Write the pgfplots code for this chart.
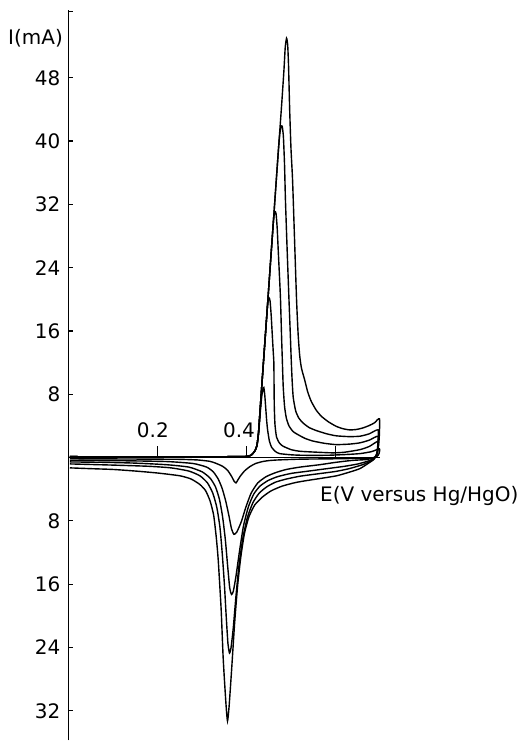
\documentclass[border=0pt]{standalone}
\usepackage{fontspec}
\setmainfont{DejaVu Sans}
\usepackage{pgfplots}
\pgfplotsset{compat=1.18}

\begin{document}
\begin{tikzpicture}
\begin{axis}[
  scale only axis,
  width=156.1pt, height=365.5pt,
  xmin=0, xmax=0.70,
  ymin=-35.73, ymax=56.57,
  axis x line=middle,
  axis y line=left,
  axis line style={-, line width=0.7pt},
  clip=false,
  xtick=\empty,
  ytick={-32,-24,-16,-8,8,16,24,32,40,48},
  yticklabels={32,24,16,8,8,16,24,32,40,48},
  extra y ticks={56.4},
  extra y tick labels={},
  tick align=inside,
  major tick length=2.5pt,
  tick style={black, line width=0.6pt},
  ticklabel style={font=\fontsize{10}{11}\selectfont},
  yticklabel style={xshift=-0.5pt},
  cycle list={{black}},
  every axis plot/.append style={line width=0.7pt, no marks, smooth, tension=0.35},
]
% curve 1
\addplot table[row sep=\\] {
E I\\ 0.003 0.12\\ 0.05 0.1\\ 0.1 0.1\\ 0.15 0.1\\ 0.2 0.1\\ 0.25 0.1\\ 0.3 0.1\\ 0.35 0.11\\ 0.38 0.12\\ 0.40 0.15\\ 0.41 0.3\\ 0.418 0.8\\ 0.423 1.5\\
0.4275 3.5\\ 0.431 6.0\\ 0.434 7.8\\ 0.4365 8.6\\ 0.4385 8.84\\ 0.4405 8.0\\ 0.443 6.1\\ 0.445 4.6\\ 0.447 3.5\\ 0.451 2.1\\ 0.456 1.3\\ 0.465 0.75\\ 0.474 0.5\\ 0.50 0.35\\ 0.52 0.3\\ 0.55 0.28\\ 0.586 0.3\\ 0.62 0.38\\ 0.654 0.5\\ 0.68 0.75\\ 0.698 1.1\\
0.697 0.5\\ 0.692 0.1\\ 0.68 -0.05\\ 0.65 -0.1\\ 0.6 -0.15\\ 0.52 -0.2\\ 0.47 -0.3\\ 0.45 -0.38\\ 0.436 -0.5\\ 0.42 -0.75\\ 0.407 -1.15\\ 0.395 -1.7\\ 0.385 -2.4\\ 0.379 -2.95\\ 0.376 -3.2\\ 0.372 -3.0\\ 0.366 -2.36\\ 0.357 -1.6\\ 0.346 -1.1\\ 0.33 -0.7\\ 0.317 -0.47\\ 0.29 -0.3\\ 0.25 -0.22\\ 0.2 -0.2\\ 0.1 -0.17\\ 0.003 -0.15\\
};
% curve 2
\addplot table[row sep=\\] {
E I\\ 0.003 0.12\\ 0.05 0.1\\ 0.1 0.1\\ 0.15 0.1\\ 0.2 0.1\\ 0.25 0.1\\ 0.3 0.1\\ 0.35 0.11\\ 0.38 0.12\\ 0.40 0.15\\ 0.41 0.3\\ 0.418 0.8\\ 0.423 1.5\\
0.4264 3\\ 0.4289 5\\ 0.4326 8\\ 0.4351 10\\ 0.4414 15\\ 0.4452 18\\ 0.4475 19.6\\ 0.4500 20.2\\ 0.4525 19.8\\ 0.455 18\\ 0.4575 15.5\\ 0.4595 13.5\\ 0.461 12\\ 0.4615 9\\ 0.462 6.5\\ 0.4635 4.2\\ 0.467 2.6\\ 0.474 1.8\\ 0.482 1.43\\ 0.50 1.0\\ 0.519 0.8\\ 0.55 0.7\\ 0.593 0.6\\ 0.62 0.68\\ 0.654 1.0\\ 0.675 1.4\\ 0.695 2.06\\
0.6945 1.0\\ 0.692 0.3\\ 0.686 0.0\\ 0.668 -0.25\\ 0.638 -0.35\\ 0.60 -0.6\\ 0.564 -0.9\\ 0.52 -1.2\\ 0.489 -1.5\\ 0.465 -1.9\\ 0.444 -2.4\\ 0.425 -3.2\\ 0.41 -4.5\\ 0.398 -6.3\\ 0.388 -8.1\\ 0.378 -9.4\\ 0.3715 -9.7\\ 0.366 -9.0\\ 0.360 -7.3\\ 0.353 -5.5\\ 0.345 -3.9\\ 0.336 -2.7\\ 0.325 -1.8\\ 0.31 -1.2\\ 0.28 -0.75\\ 0.22 -0.5\\ 0.12 -0.4\\ 0.003 -0.35\\
};
% curve 3
\addplot table[row sep=\\] {
E I\\ 0.003 0.12\\ 0.05 0.1\\ 0.1 0.1\\ 0.15 0.1\\ 0.2 0.1\\ 0.25 0.1\\ 0.3 0.1\\ 0.35 0.11\\ 0.38 0.12\\ 0.40 0.15\\ 0.41 0.3\\ 0.418 0.8\\ 0.423 1.5\\
0.4264 3\\ 0.4289 5\\ 0.4351 10\\ 0.4414 15\\ 0.4477 20\\ 0.4539 25\\ 0.4577 28\\ 0.4605 30.2\\ 0.4635 31.1\\ 0.466 30.8\\ 0.4685 29\\ 0.471 26\\ 0.474 22.5\\ 0.476 19.9\\ 0.4785 15\\ 0.48 12.4\\ 0.482 9\\ 0.485 6.5\\ 0.489 5.0\\ 0.495 4.0\\ 0.504 3.3\\ 0.512 3.0\\ 0.53 2.45\\ 0.548 2.1\\ 0.575 1.8\\ 0.601 1.64\\ 0.63 1.7\\ 0.654 1.86\\ 0.675 2.2\\ 0.695 2.7\\
0.6945 1.3\\ 0.691 0.3\\ 0.684 -0.1\\ 0.675 -0.4\\ 0.65 -0.8\\ 0.62 -1.1\\ 0.58 -1.4\\ 0.54 -1.7\\ 0.50 -2.0\\ 0.47 -2.4\\ 0.448 -2.9\\ 0.43 -3.6\\ 0.416 -4.6\\ 0.404 -6.2\\ 0.393 -8.6\\ 0.384 -11.8\\ 0.376 -15\\ 0.370 -16.9\\ 0.366 -17.3\\ 0.362 -16.5\\ 0.357 -13.5\\ 0.352 -10.3\\ 0.346 -7.5\\ 0.339 -5.3\\ 0.330 -3.7\\ 0.318 -2.6\\ 0.30 -1.8\\ 0.27 -1.2\\ 0.22 -0.9\\ 0.15 -0.7\\ 0.08 -0.6\\ 0.003 -0.55\\
};
% curve 4
\addplot table[row sep=\\] {
E I\\ 0.003 0.12\\ 0.05 0.1\\ 0.1 0.1\\ 0.15 0.1\\ 0.2 0.1\\ 0.25 0.1\\ 0.3 0.1\\ 0.35 0.11\\ 0.38 0.12\\ 0.40 0.15\\ 0.41 0.3\\ 0.418 0.8\\ 0.423 1.5\\
0.4264 3\\ 0.4289 5\\ 0.4351 10\\ 0.4414 15\\ 0.4477 20\\ 0.4539 25\\ 0.4602 30\\ 0.4664 35\\ 0.4714 39\\ 0.4745 41\\ 0.4775 41.9\\ 0.480 41.8\\ 0.4825 40.5\\ 0.485 37\\ 0.487 32.6\\ 0.491 26\\ 0.495 19.9\\ 0.498 15.5\\ 0.500 12.4\\ 0.502 9.8\\ 0.5045 7.6\\ 0.51 5.9\\ 0.517 5.0\\ 0.526 4.4\\ 0.54 3.8\\ 0.557 3.4\\ 0.58 3.0\\ 0.601 2.75\\ 0.63 2.65\\ 0.654 2.7\\ 0.675 3.0\\ 0.695 3.5\\
0.6945 1.8\\ 0.692 0.5\\ 0.687 -0.1\\ 0.68 -0.4\\ 0.66 -0.9\\ 0.63 -1.4\\ 0.60 -1.75\\ 0.56 -2.05\\ 0.52 -2.35\\ 0.49 -2.7\\ 0.465 -3.1\\ 0.445 -3.7\\ 0.428 -4.5\\ 0.414 -5.7\\ 0.402 -7.5\\ 0.392 -10\\ 0.383 -13.5\\ 0.376 -17.5\\ 0.370 -21.5\\ 0.365 -24\\ 0.3615 -24.7\\ 0.358 -23.5\\ 0.354 -20\\ 0.350 -16\\ 0.345 -12\\ 0.340 -8.8\\ 0.333 -6.3\\ 0.324 -4.5\\ 0.312 -3.2\\ 0.295 -2.3\\ 0.27 -1.7\\ 0.23 -1.3\\ 0.18 -1.1\\ 0.1 -0.95\\ 0.003 -0.8\\
};
% curve 5
\addplot table[row sep=\\] {
E I\\ 0.003 0.12\\ 0.05 0.1\\ 0.1 0.1\\ 0.15 0.1\\ 0.2 0.1\\ 0.25 0.1\\ 0.3 0.1\\ 0.35 0.11\\ 0.38 0.12\\ 0.40 0.15\\ 0.41 0.3\\ 0.418 0.8\\ 0.423 1.5\\
0.4264 3\\ 0.4289 5\\ 0.4351 10\\ 0.4414 15\\ 0.4477 20\\ 0.4539 25\\ 0.4602 30\\ 0.4664 35\\ 0.4727 40\\ 0.479 45\\ 0.4837 49\\ 0.4865 51.8\\ 0.4895 53\\ 0.492 52.2\\ 0.494 49.5\\ 0.4965 44\\ 0.4995 39\\ 0.503 35.1\\ 0.5075 27.5\\ 0.512 19.9\\ 0.5155 15.6\\ 0.519 12.9\\ 0.523 11.3\\ 0.530 9.85\\ 0.537 8.3\\ 0.545 7.1\\ 0.556 6.0\\ 0.568 5.2\\ 0.584 4.5\\ 0.601 3.95\\ 0.616 3.65\\ 0.631 3.5\\ 0.646 3.55\\ 0.661 3.75\\ 0.675 4.05\\ 0.687 4.4\\ 0.698 4.9\\
0.6975 2.5\\ 0.694 0.75\\ 0.686 -0.2\\ 0.675 -0.65\\ 0.654 -1.4\\ 0.63 -1.85\\ 0.602 -2.3\\ 0.57 -2.6\\ 0.541 -2.85\\ 0.51 -3.15\\ 0.48 -3.6\\ 0.455 -4.2\\ 0.435 -5.0\\ 0.418 -6.0\\ 0.405 -7.5\\ 0.395 -9.6\\ 0.387 -12.5\\ 0.380 -16\\ 0.373 -20.9\\ 0.366 -27\\ 0.3605 -31.5\\ 0.357 -33.3\\ 0.354 -31.5\\ 0.350 -28\\ 0.347 -25\\ 0.343 -19.5\\ 0.340 -16.5\\ 0.336 -12.8\\ 0.332 -10.2\\ 0.326 -7.3\\ 0.318 -5.5\\ 0.308 -4.2\\ 0.295 -3.4\\ 0.275 -2.7\\ 0.25 -2.3\\ 0.2 -1.95\\ 0.15 -1.7\\ 0.1 -1.5\\ 0.05 -1.4\\ 0.003 -1.3\\
};
% x ticks (pointing up) and labels
\draw[line width=0.6pt] (axis cs:0.2,0) -- ++(0pt,6pt);
\draw[line width=0.6pt] (axis cs:0.4,0) -- ++(0pt,6pt);
\draw[line width=0.6pt] (axis cs:0.6,0) -- ++(0pt,6pt);
\node[anchor=south, inner sep=0pt, font=\fontsize{10}{11}\selectfont] at (axis cs:0.1895,2.5) {0.2};
\node[anchor=south, inner sep=0pt, font=\fontsize{10}{11}\selectfont] at (axis cs:0.3827,2.5) {0.4};
\node[anchor=east, inner sep=0pt, font=\fontsize{10}{11}\selectfont] at (axis cs:-0.0117,53.0) {I(mA)};
\node[anchor=west, inner sep=0pt, font=\fontsize{10}{11}\selectfont] at (axis cs:0.564,-4.8) {E(V versus Hg/HgO)};
% page extent of the reference
\path (axis cs:-0.1536,57.83) rectangle (axis cs:1.0124,-35.73);
\end{axis}
\end{tikzpicture}
\end{document}
